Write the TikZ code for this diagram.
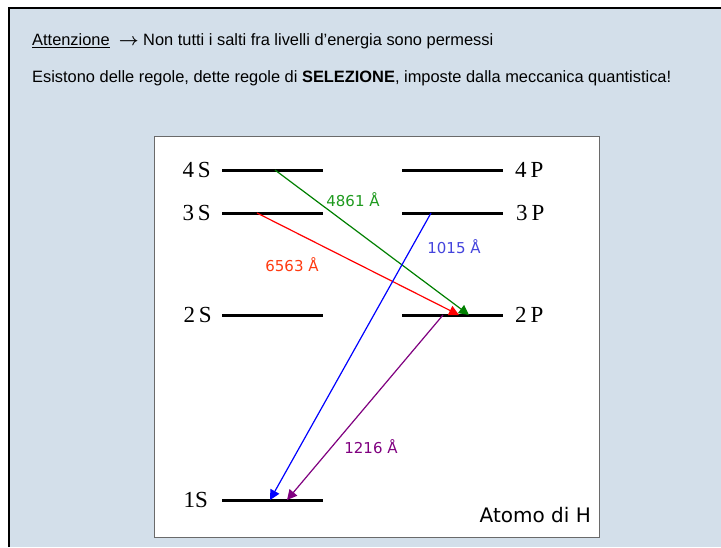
\documentclass[tikz,border=0pt]{standalone}
\usepackage{amsmath}
\usepackage{fontspec}
\setmainfont{Liberation Sans}
\newfontfamily\lvlfont{Liberation Serif}
\newfontfamily\numfont{DejaVu Sans}
\usepackage{xcolor}
\usetikzlibrary{arrows.meta,positioning}

\definecolor{slidebg}{HTML}{D3DFEA}
\definecolor{boxedge}{HTML}{6A6A6A}
\definecolor{hgreen}{HTML}{008000}
\definecolor{hgreenlbl}{HTML}{1E9A1E}
\definecolor{hredlbl}{HTML}{FF3A10}
\definecolor{hbluelbl}{HTML}{4444DD}
\definecolor{hpurple}{HTML}{800080}

\begin{document}
\begin{tikzpicture}[
    x=1pt, y=-1pt,
    level/.style={line width=3pt, draw=black},
    lvllabel/.style={font=\lvlfont\fontsize{23}{26}\selectfont, inner sep=0pt},
    wavelbl/.style={font=\numfont\fontsize{15}{18}\selectfont, inner sep=0pt},
    jump/.style={-{Triangle[length=10pt, width=10pt]}, line width=1.2pt},
    slidetext/.style={font=\fontsize{16.4}{19}\selectfont, anchor=base west, inner sep=0pt},
  ]
  \useasboundingbox (0,0) rectangle (721,547);

  % background and frame
  \fill[slidebg] (9,8) rectangle (721,547);
  \draw[line width=2.5pt] (9,547) -- (9,8) -- (721,8);

  % heading text
  \node[slidetext] (note) at (32,45) {\underline{Attenzione}\ \ $\boldsymbol{\rightarrow}$ Non tutti i salti fra livelli d'energia sono permessi};
  \node[slidetext] (rule) at (32,82) {Esistono delle regole, dette regole di \textbf{SELEZIONE}, imposte dalla meccanica quantistica!};

  % diagram box
  \draw[boxedge, fill=white, line width=1pt] (154,136) rectangle (599,537);

  % S levels
  \draw[level] (222,170) coordinate (s4a) -- (323,170) coordinate (s4b);
  \draw[level] (222,213) coordinate (s3a) -- (323,213) coordinate (s3b);
  \draw[level] (222,315) coordinate (s2a) -- (323,315) coordinate (s2b);
  \draw[level] (222,500) coordinate (s1a) -- (323,500) coordinate (s1b);
  % P levels
  \draw[level] (402,170) coordinate (p4a) -- (503,170) coordinate (p4b);
  \draw[level] (402,213) coordinate (p3a) -- (503,213) coordinate (p3b);
  \draw[level] (402,315) coordinate (p2a) -- (503,315) coordinate (p2b);

  % level labels
  \node[lvllabel, left=11pt of s4a] (l4S) {4\,S};
  \node[lvllabel, left=11pt of s3a] (l3S) {3\,S};
  \node[lvllabel, left=10pt of s2a] (l2S) {2\,S};
  \node[lvllabel, left=14pt of s1a] (l1S) {1S};
  \node[lvllabel, right=12pt of p4b] (l4P) {4\,P};
  \node[lvllabel, right=13pt of p3b] (l3P) {3\,P};
  \node[lvllabel, right=12pt of p2b] (l2P) {2\,P};

  % transition end points
  \coordinate (g0) at (275,170);
  \coordinate (g1) at (469,315);
  \coordinate (r0) at (257,213);
  \coordinate (r1) at (459,315);
  \coordinate (b0) at (431,213);
  \coordinate (b1) at (270,500);
  \coordinate (v0) at (443,315);
  \coordinate (v1) at (287,500);

  % transitions
  \draw[jump, red] (r0) -- (r1);
  \draw[jump, hgreen] (g0) -- (g1);
  \draw[jump, blue] (b0) -- (b1);
  \draw[jump, hpurple] (v0) -- (v1);

  % wavelengths
  \node[wavelbl, text=hgreenlbl] (wg) at (353,200) {4861 Å};
  \node[wavelbl, text=hredlbl] (wr) at (292,265) {6563 Å};
  \node[wavelbl, text=hbluelbl] (wb) at (454,247) {1015 Å};
  \node[wavelbl, text=hpurple] (wv) at (371,447) {1216 Å};

  \node[font=\numfont\fontsize{20}{24}\selectfont, anchor=east, inner sep=0pt] (atom) at (591,515) {Atomo di H};
\end{tikzpicture}
\end{document}
